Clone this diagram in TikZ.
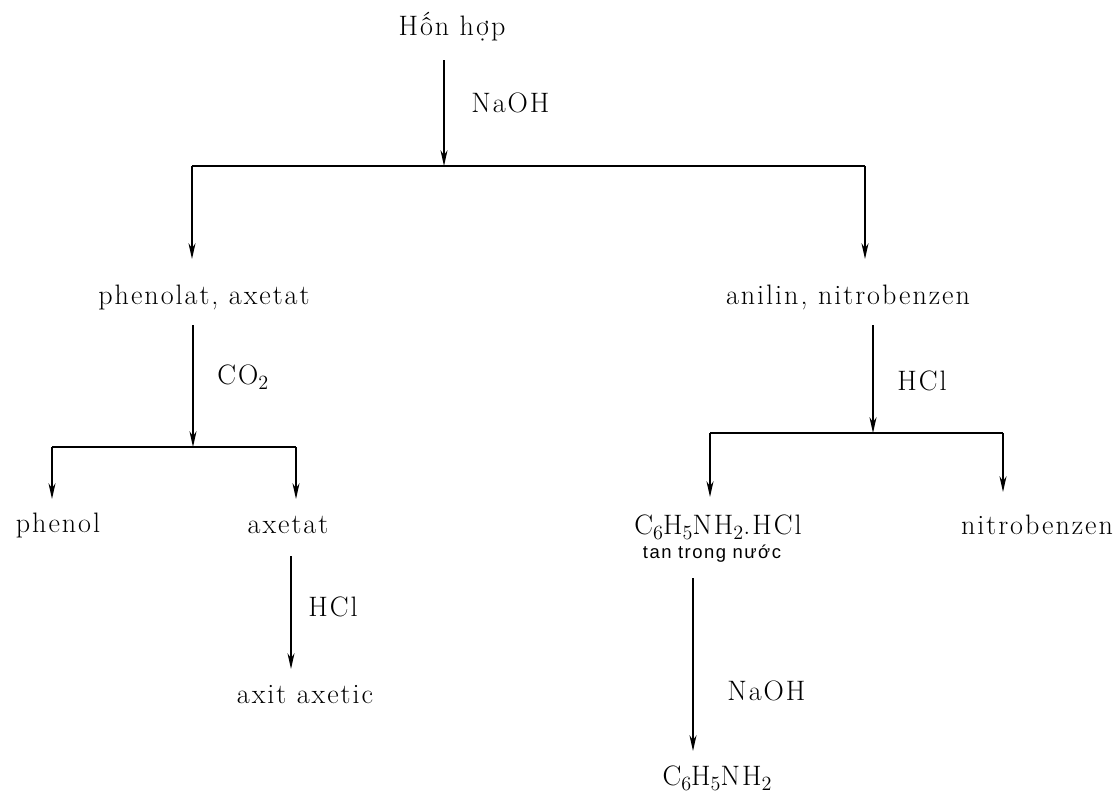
\documentclass[tikz,border=0pt]{standalone}
\usepackage{fontspec}
\usetikzlibrary{arrows.meta}
\setmainfont[LetterSpace=7]{Latin Modern Roman}
\newfontfamily\smallsans[LetterSpace=8]{Liberation Sans}
\newcommand{\chsub}[1]{\raisebox{-0.4ex}{\fontsize{11.5}{12}\selectfont #1}}
\begin{document}
\begin{tikzpicture}[x=0.02cm,y=-0.02cm,
  lbl/.style={font=\fontsize{16}{18}\selectfont, inner sep=0pt},
  cond/.style={font=\fontsize{16}{18}\selectfont, inner sep=0pt, anchor=west},
  arr/.style={line width=1pt, -{Stealth[length=9pt,width=4pt]}},
  ln/.style={line width=1pt}]
\useasboundingbox (0,0) rectangle (1120,798);
\node[lbl] (hh) at (452,27) {Hốn hợp};
\node[lbl] (pa) at (204,297) {phenolat, axetat};
\node[lbl] (an) at (848,297) {anilin, nitrobenzen};
\node[lbl] (ph) at (58,525) {phenol};
\node[lbl] (ax) at (288,525) {axetat};
\node[lbl] (aa) at (305,695) {axit axetic};
\node[lbl] (cs) at (718,527) {C\chsub{6}H\chsub{5}NH\chsub{2}.HCl};
\node[lbl] (nb) at (1037,525) {nitrobenzen};
\node[inner sep=0pt, font=\smallsans\fontsize{10.5}{12}\selectfont] (tt) at (712,554) {tan trong nước};
\node[lbl] (ca) at (717,778) {C\chsub{6}H\chsub{5}NH\chsub{2}};
% branch points
\coordinate (b1) at (444,166);
\coordinate (b1l) at (192,166);
\coordinate (b1r) at (865,166);
\coordinate (b2) at (193,447);
\coordinate (b2l) at (52,447);
\coordinate (b2r) at (296,447);
\coordinate (b3) at (873,433);
\coordinate (b3l) at (710,433);
\coordinate (b3r) at (1003,433);
% main
\draw[arr] (444,60) -- (b1);
\node[cond] (c1) at (471,103) {NaOH};
\draw[ln] (b1l) -- (b1r);
\draw[arr] (b1l) -- (192,259);
\draw[arr] (b1r) -- (865,259);
% left
\draw[arr] (193,325) -- (b2);
\node[cond] (c2) at (217,377) {CO\chsub{2}};
\draw[ln] (b2l) -- (b2r);
\draw[arr] (b2l) -- (52,499);
\draw[arr] (b2r) -- (296,499);
\draw[arr] (291,556) -- (291,669);
\node[cond] (c3) at (308,607) {HCl};
% right
\draw[arr] (873,325) -- (b3);
\node[cond] (c4) at (897,381) {HCl};
\draw[ln] (b3l) -- (b3r);
\draw[arr] (b3l) -- (710,497);
\draw[arr] (b3r) -- (1003,492);
\draw[arr] (693,578) -- (693,751);
\node[cond] (c5) at (727,691) {NaOH};
\end{tikzpicture}
\end{document}
